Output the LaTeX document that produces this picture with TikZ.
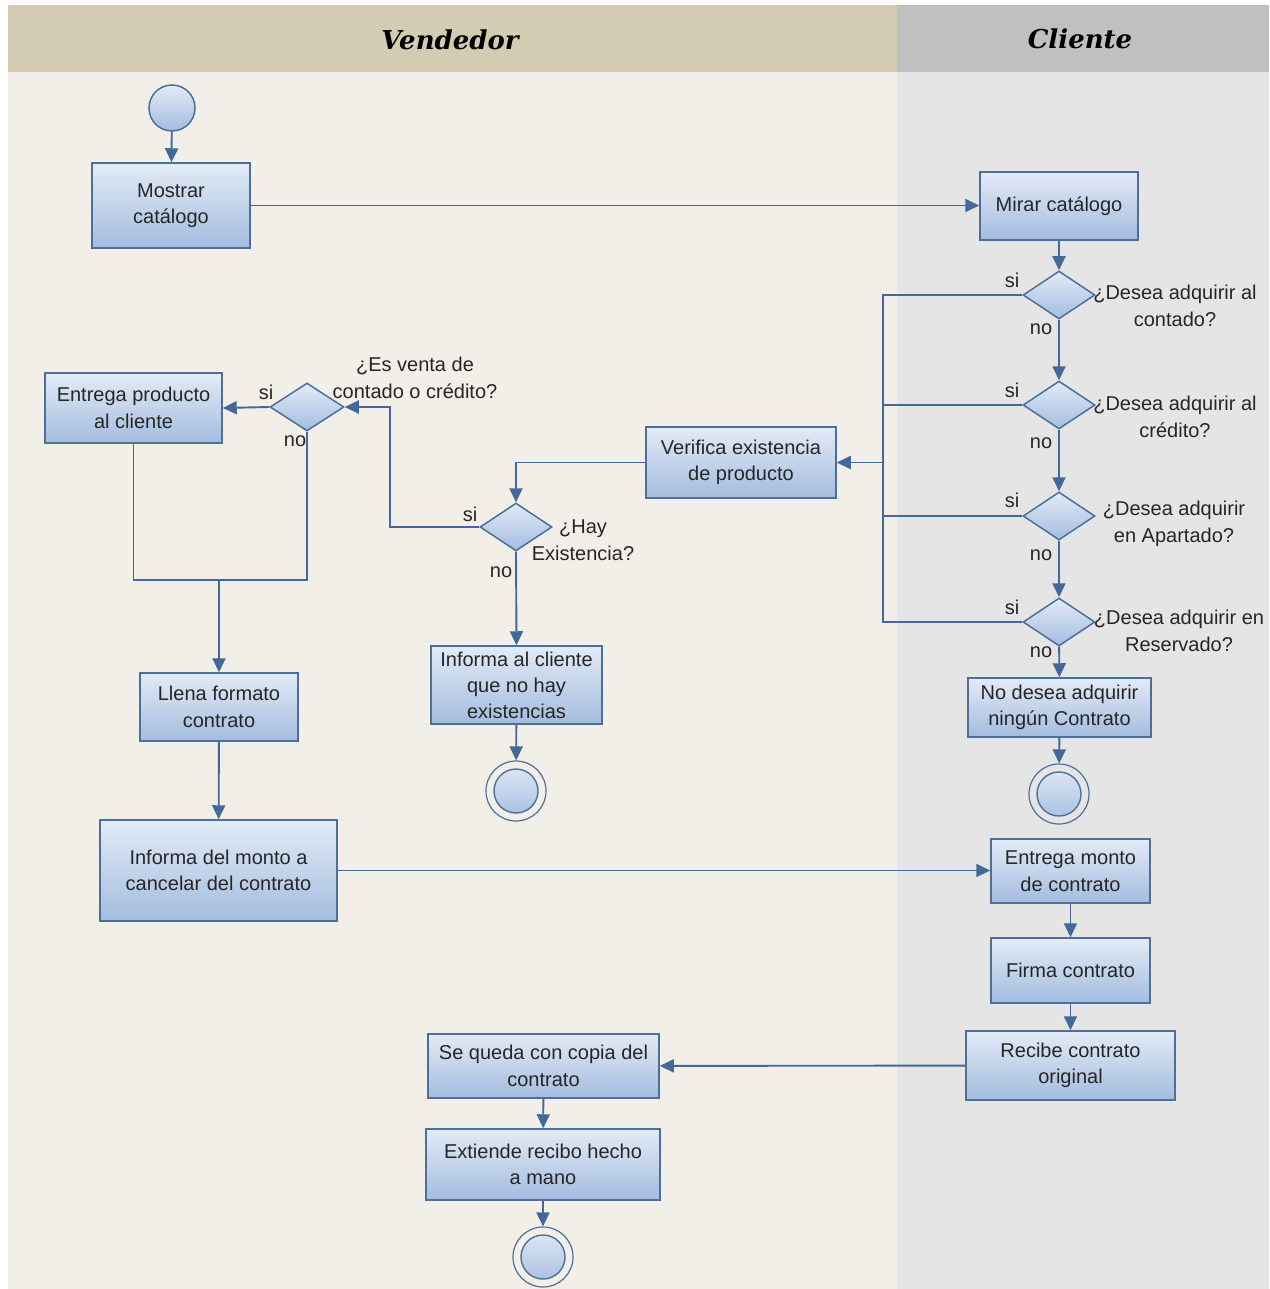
\documentclass[tikz,border=0pt]{standalone}
\usepackage{fontspec}
\setmainfont{Liberation Sans}
\newfontfamily\lanefont{DejaVu Serif}
\usetikzlibrary{arrows.meta,shapes.geometric}

\definecolor{vendhead}{HTML}{D3CCB2}
\definecolor{vendbody}{HTML}{F1EFE7}
\definecolor{clihead}{HTML}{C0C0C0}
\definecolor{clibody}{HTML}{E5E5E5}
\definecolor{edgec}{HTML}{4D6F99}
\definecolor{flowc}{HTML}{436899}
\definecolor{shadetop}{HTML}{E3EBF6}
\definecolor{shadebot}{HTML}{A3BCDF}
\definecolor{txt}{HTML}{262626}

\tikzset{
  act/.style={draw=edgec, line width=1.5pt, top color=shadetop, bottom color=shadebot,
    align=center, inner sep=0pt, text=txt, font=\fontsize{20}{26.5}\selectfont},
  dec/.style={diamond, draw=edgec, line width=1.5pt, top color=shadetop, bottom color=shadebot,
    inner sep=0pt, minimum width=72pt, minimum height=48pt},
  startnode/.style={circle, draw=edgec, line width=1.5pt, top color=shadetop, bottom color=shadebot,
    minimum size=46pt, inner sep=0pt},
  final/.style={circle, draw=edgec, line width=1.2pt, minimum size=60pt, inner sep=0pt,
    path picture={
      \shade[top color=shadetop, bottom color=shadebot] (path picture bounding box.center) circle[radius=22pt];
      \draw[edgec, line width=1.4pt] (path picture bounding box.center) circle[radius=22pt];}},
  flow/.style={draw=flowc, line width=1.9pt},
  arr/.style={flow, -{Triangle[length=14pt,width=13pt]}},
  lbl/.style={inner sep=0pt, text=txt, align=center, font=\fontsize{20}{26.5}\selectfont},
  lanetitle/.style={inner sep=0pt, text=black, font=\lanefont\bfseries\itshape\fontsize{26}{30}\selectfont}
}

\begin{document}
\begin{tikzpicture}[x=1pt,y=-1pt]
\useasboundingbox (0,0) rectangle (1269,1289);
% swimlanes
\fill[white] (0,0) rectangle (1269,1289);
\fill[vendbody] (8,5) rectangle (897,1289);
\fill[vendhead] (8,5) rectangle (897,72);
\fill[clibody] (897,5) rectangle (1269,1289);
\fill[clihead] (897,5) rectangle (1269,72);
\node[lanetitle] (hv) at (450,40) {Vendedor};
\node[lanetitle] (hc) at (1080,39) {Cliente};

% activities and decisions
\node[startnode] (ini) at (172,108) {};
\node[act, minimum width=158pt, minimum height=85pt] (mostrar) at (171,205.5) {Mostrar\\catálogo};
\node[act, minimum width=158pt, minimum height=68pt] (mirar) at (1059,206) {Mirar catálogo};
\node[dec] (d1) at (1059,295) {};
\node[dec] (d2) at (1059,405) {};
\node[dec] (d3) at (1059,516) {};
\node[dec] (d4) at (1059,622) {};
\node[act, minimum width=183pt, minimum height=59pt] (nodesea) at (1059.5,707.5) {No desea adquirir\\ningún Contrato};
\node[final] (fin1) at (1059,794) {};
\node[act, minimum width=190pt, minimum height=71pt] (verif) at (741,462.5) {Verifica existencia\\de producto};
\node[dec] (hay) at (516,527) {};
\node[act, minimum width=171pt, minimum height=78pt, font=\fontsize{20}{26}\selectfont] (noexist) at (516.5,685) {Informa al cliente\\que no hay\\existencias};
\node[final] (fin2) at (516,791) {};
\node[dec, minimum width=74pt] (esv) at (307,407) {};
\node[act, minimum width=177pt, minimum height=70pt] (entrega) at (133.5,408) {Entrega producto\\al cliente};
\node[act, minimum width=158pt, minimum height=68pt] (llena) at (219,707) {Llena formato\\contrato};
\node[act, minimum width=237pt, minimum height=101pt] (monto) at (218.5,870.5) {Informa del monto a\\cancelar del contrato};
\node[act, minimum width=159pt, minimum height=64pt] (entmonto) at (1070.5,871) {Entrega monto\\de contrato};
\node[act, minimum width=159pt, minimum height=65pt] (firma) at (1070.5,970.5) {Firma contrato};
\node[act, minimum width=209pt, minimum height=69pt] (recibe) at (1070.5,1065.5) {Recibe contrato\\original};
\node[act, minimum width=231pt, minimum height=64pt] (copia) at (543.5,1066) {Se queda con copia del\\contrato};
\node[act, minimum width=234pt, minimum height=71pt] (recibo) at (543,1164.5) {Extiende recibo hecho\\a mano};
\node[final] (fin3) at (543,1257) {};

% guard labels
\node[lbl] (s1) at (1012,280) {si};
\node[lbl] (n1) at (1041,329) {no};
\node[lbl] (s2) at (1012,390) {si};
\node[lbl] (n2) at (1041,443) {no};
\node[lbl] (s3) at (1012,500) {si};
\node[lbl] (n3) at (1041,555) {no};
\node[lbl] (s4) at (1012,607) {si};
\node[lbl] (n4) at (1041,652) {no};
\node[lbl] (s5) at (266,392) {si};
\node[lbl] (n5) at (295,441) {no};
\node[lbl] (s6) at (470,514) {si};
\node[lbl] (n6) at (501,572) {no};

% decision questions
\node[lbl] (q1) at (1175,306) {¿Desea adquirir al\\contado?};
\node[lbl] (q2) at (1175,417) {¿Desea adquirir al\\crédito?};
\node[lbl] (q3) at (1174,524) {¿Desea adquirir\\en Apartado?};
\node[lbl] (q4) at (1179,631) {¿Desea adquirir en\\Reservado?};
\node[lbl] (q5) at (415,378) {¿Es venta de\\contado o crédito?};
\node[lbl] (q6) at (583,540) {¿Hay\\Existencia?};

% control flow
\draw[arr] (ini) -- (mostrar);
\draw[arr] (mostrar.east) -- (mostrar.east -| mirar.west);
\draw[arr] (mirar) -- (d1);
\draw[arr] (d1) -- (d2);
\draw[arr] (d2) -- (d3);
\draw[arr] (d3) -- (d4);
\draw[arr] (d4) -- (nodesea);
\draw[arr] (nodesea) -- (fin1);

\coordinate (bus) at (883,295);
\draw[flow] (d1.west) -- (bus) -- (bus |- d4.west) -- (d4.west);
\draw[flow] (d2.west) -- (d2.west -| bus);
\draw[flow] (d3.west) -- (d3.west -| bus);
\draw[arr] (verif.east -| bus) -- (verif.east);
\draw[arr] (verif.west) -| (hay.north);
\draw[arr] (hay.south) -- (noexist.north);
\draw[arr] (noexist) -- (fin2);

\coordinate (loop) at (390,527);
\draw[arr] (hay.west) -- (loop) |- (esv.east);
\draw[arr] (esv.west) -- (entrega.east);

\coordinate (join) at (219,580);
\draw[flow] (entrega.south) |- (join) -| (esv.south);
\draw[arr] (join) -- (llena);
\draw[arr] (llena) -- (monto);
\draw[arr] (monto.east) -- (monto.east -| entmonto.west);
\draw[arr] (entmonto) -- (firma);
\draw[arr] (firma) -- (recibe);
\draw[arr] (recibe) -- (copia);
\draw[arr] (copia) -- (recibo);
\draw[arr] (recibo) -- (fin3);
\end{tikzpicture}
\end{document}
